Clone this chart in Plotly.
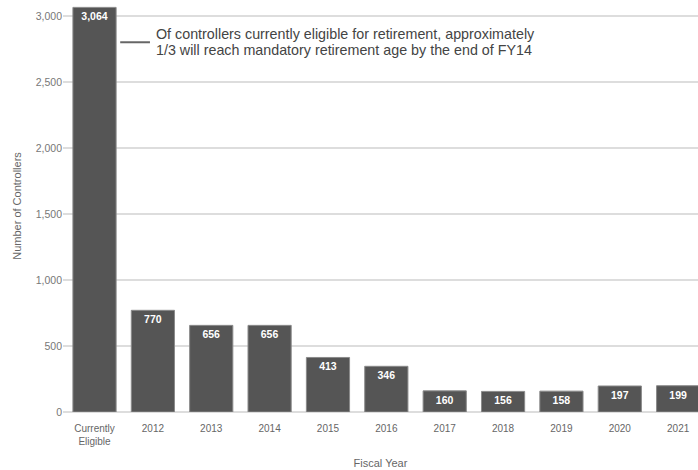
import plotly.graph_objects as go

categories = ["Currently<br>Eligible", "2012", "2013", "2014", "2015", "2016",
              "2017", "2018", "2019", "2020", "2021"]
controllers = [3064, 770, 656, 656, 413, 346, 160, 156, 158, 197, 199]
y_ticks = [0, 500, 1000, 1500, 2000, 2500, 3000]
y_tick_labels = ["0", "500", "1,000", "1,500", "2,000", "2,500", "3,000"]
note_lines = ["Of controllers currently eligible for retirement, approximately",
              "1/3 will reach mandatory retirement age by the end of FY14"]

FONT = "Liberation Sans, Arial, sans-serif"

fig = go.Figure()
fig.add_trace(go.Bar(
    x=list(range(len(categories))),
    y=controllers,
    marker=dict(color="#555555", line=dict(color="#8a8a8a", width=1)),
    texttemplate="%{y:,}",
    textposition="inside",
    insidetextanchor="end",
    textangle=0,
    textfont=dict(color="white", size=10.5, family=FONT, weight="bold"),
    cliponaxis=False,
))

fig.update_layout(
    width=698, height=470,
    margin=dict(l=63, r=0, t=0, b=58),
    paper_bgcolor="white", plot_bgcolor="white",
    bargap=0.26,
    showlegend=False,
    font=dict(family=FONT, color="#666666"),
    xaxis=dict(
        range=[-0.54, 10.34],
        tickmode="array",
        tickvals=list(range(len(categories))),
        ticktext=categories,
        tickfont=dict(size=10, color="#666666"),
        ticklabelstandoff=9,
        showgrid=False, zeroline=False, showline=False,
        title=dict(text="Fiscal Year", font=dict(size=11, color="#666666"), standoff=13),
    ),
    yaxis=dict(
        range=[0, 3120],
        tickmode="array",
        tickvals=y_ticks,
        ticktext=y_tick_labels,
        tickfont=dict(size=10.5, color="#777777"),
        showgrid=True, gridcolor="#dddddd", gridwidth=1.5,
        zeroline=True, zerolinecolor="#dddddd", zerolinewidth=1.5,
        showline=False,
        title=dict(text="Number of Controllers", font=dict(size=11, color="#666666"), standoff=11),
    ),
)

fig.add_shape(type="line", xref="x", yref="y",
              x0=0.44, x1=0.95, y0=2800, y1=2800,
              line=dict(color="#666666", width=2))
for i, line in enumerate(note_lines):
    fig.add_annotation(xref="x", yref="y", x=1.02, y=2860 - i * 121,
                       text=line, showarrow=False,
                       xanchor="left", yanchor="middle", align="left",
                       font=dict(size=14.3, color="#444444", family=FONT))

fig.write_html("out.html")
